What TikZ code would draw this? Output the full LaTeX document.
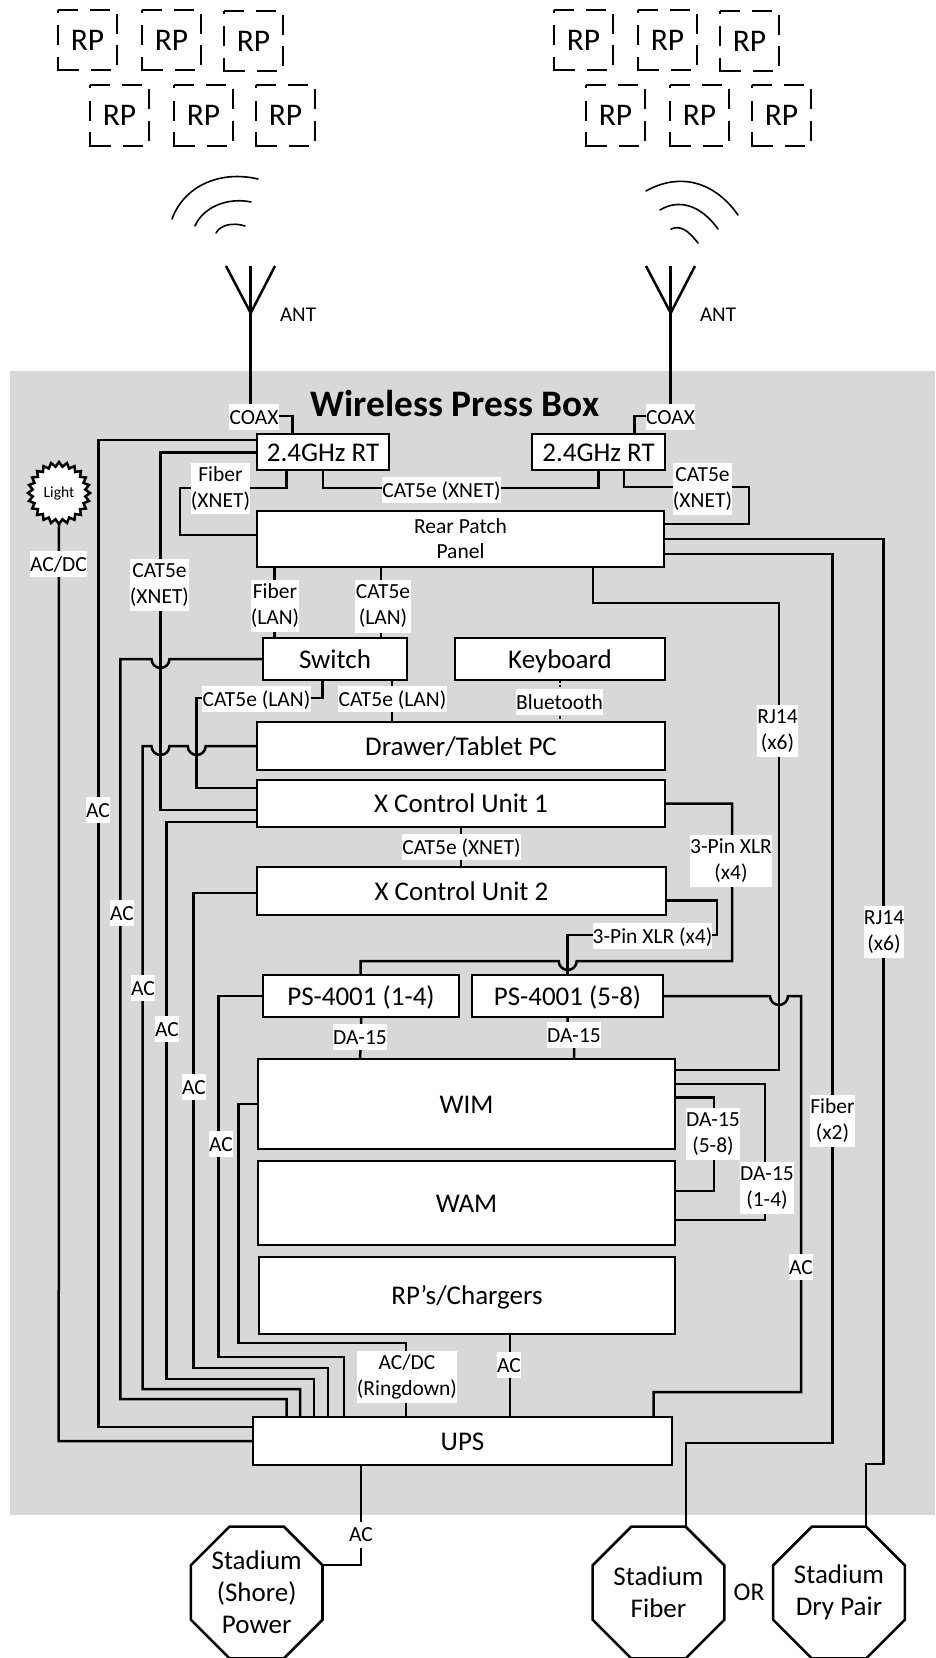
\documentclass[tikz,border=0pt]{standalone}
\usepackage{fontspec}
\setmainfont{Carlito}
\usetikzlibrary{shapes.geometric}
\tikzset{
  unit/.style 2 args={draw=black,fill=white,line width=2.8pt,rectangle,inner sep=0pt,outer sep=0pt,
    minimum width=#1pt,minimum height=#2pt,align=center,font=\fontsize{27}{32}\selectfont},
  oneline/.style={text height=18pt,text depth=0pt},
  lab/.style 2 args={fill=white,rectangle,inner sep=0pt,outer sep=0pt,
    minimum width=#1pt,minimum height=#2pt,align=center,font=\fontsize{21.5}{26}\selectfont},
  labone/.style={text height=14pt,text depth=0pt},
  wire/.style={draw=black,line width=2.5pt,line join=miter},
  arcw/.style={draw=black,line width=1.6pt,line cap=round},
  oct/.style={draw=black,fill=white,line width=2.6pt,regular polygon,regular polygon sides=8,
    inner sep=0pt,outer sep=0pt,minimum size=142.5pt,align=center,font=\fontsize{27}{32}\selectfont},
  rpbox/.style={rectangle,inner sep=0pt,outer sep=0pt,minimum width=59pt,minimum height=60.5pt,
    font=\fontsize{31.5}{34}\selectfont},
  rpdash/.style={draw=black,line width=2.3pt,
    dash pattern=on 20pt off 11.5pt on 20pt off 11.5pt on 20pt off 11.5pt on 20pt off 11.5pt on 20pt off 11.5pt on 34.5pt off 11.5pt on 20pt off 12.5pt},
  plain/.style={inner sep=0pt,outer sep=0pt,align=center},
}
\begin{document}
\begin{tikzpicture}[x=1pt,y=-1pt]
\useasboundingbox (0,0) rectangle (935,1658);
\fill[fill={rgb,255:red,216;green,216;blue,216}] (10,371) rectangle (935,1515);

% RP groups
\node[rpbox] (a1) at (87.5,40) {RP};
\node[rpbox] (a2) at (171.5,40) {RP};
\node[rpbox] (a3) at (253.5,41) {RP};
\node[rpbox] (a4) at (119.5,115.5) {RP};
\node[rpbox] (a5) at (203.5,115.5) {RP};
\node[rpbox] (a6) at (285.5,115.5) {RP};
\node[rpbox] (b1) at (583.5,40) {RP};
\node[rpbox] (b2) at (667.5,40) {RP};
\node[rpbox] (b3) at (749.5,41) {RP};
\node[rpbox] (b4) at (615.5,115.5) {RP};
\node[rpbox] (b5) at (699.5,115.5) {RP};
\node[rpbox] (b6) at (781.5,115.5) {RP};
\foreach \n in {a1,a2,a3,a4,a5,a6,b1,b2,b3,b4,b5,b6}
  \draw[rpdash] (\n.north west) -- (\n.north east) -- (\n.south east) -- (\n.south west) -- cycle;

% signal arcs
\draw[arcw] (172,219) .. controls (184,186) and (220,170) .. (258,179);
\draw[arcw] (195,226) .. controls (203,207) and (228,197) .. (251,202);
\draw[arcw] (216,233) .. controls (220,225) and (233,222) .. (245,226);
\draw[arcw] (646,191) .. controls (676,174) and (712,178) .. (738,215);
\draw[arcw] (660,210) .. controls (678,199) and (700,204) .. (718,229);
\draw[arcw] (671,229) .. controls (680,225) and (688,230) .. (698,243);

% antennas
\coordinate (ant1) at (250.7,313);
\coordinate (ant2) at (670.7,313);
\draw[wire] (226,266) -- (ant1) -- (275,266);
\draw[wire] (ant1 |- 0,266) -- (ant1);
\draw[wire] (646,266) -- (ant2) -- (695,266);
\draw[wire] (ant2 |- 0,266) -- (ant2);
\node[plain,font=\fontsize{21}{24}\selectfont] (anta) at (298,315) {ANT};
\node[plain,font=\fontsize{21}{24}\selectfont] (antb) at (718,315) {ANT};

% title
\node[plain,font=\fontsize{37.4}{42}\selectfont\bfseries] (title) at (455,404) {Wireless Press Box};

% main units
\node[unit={132}{36},oneline] (rt1) at (323,452) {2.4GHz RT};
\node[unit={133}{36},oneline] (rt2) at (598.5,452) {2.4GHz RT};
\node[unit={407}{56},font=\fontsize{21.5}{25}\selectfont] (rear) at (460.5,539) {Rear Patch\\Panel};
\node[unit={144}{42},oneline] (switch) at (335,659) {Switch};
\node[unit={210}{42},oneline] (keyb) at (560,659) {Keyboard};
\node[unit={408}{48},oneline] (drawer) at (461,746) {Drawer/Tablet PC};
\node[unit={408}{47},oneline] (xcu1) at (461,803.5) {X Control Unit 1};
\node[unit={409}{48},oneline] (xcu2) at (461.5,891) {X Control Unit 2};
\node[unit={196}{42},oneline] (ps1) at (361,996) {PS-4001 (1-4)};
\node[unit={191}{42},oneline] (ps2) at (567.5,996) {PS-4001 (5-8)};
\node[unit={417}{90},oneline] (wim) at (466.5,1104) {WIM};
\node[unit={417}{84},oneline] (wam) at (466.5,1203) {WAM};
\node[unit={416}{77},oneline] (rpch) at (467,1295.5) {RP’s/Chargers};
\node[unit={419}{48},oneline] (ups) at (462.5,1441) {UPS};

% light and stadium feeds
\node[draw=black,fill=white,line width=2.5pt,star,star points=24,star point ratio=1.17,inner sep=0pt,outer sep=0pt,
  minimum size=62pt,font=\fontsize{15.5}{18}\selectfont] (light) at (59,493) {Light};
\node[oct] (shore) at (256.7,1592.5) {Stadium\\(Shore)\\Power};
\node[oct] (sfiber) at (658.5,1592.5) {Stadium\\Fiber};
\node[oct] (sdry) at (839,1592.5) {Stadium\\Dry Pair};
\node[plain,font=\fontsize{25.5}{30}\selectfont] (orr) at (749,1592) {OR};
\coordinate (shoreport) at (323,1565);
\coordinate (fiberport) at (686,1527);
\coordinate (dryport) at (866,1527);

% connectors
\draw[wire] (ant1) |- (292.7,416) -- (292.7,434);
\draw[wire] (ant2) |- (634.7,416) -- (634.7,434);
\draw[wire] (rt1.west |- 0,440) -- (98.5,440) -- (98.5,1427) -- (ups.west |- 0,1427);
\draw[wire] (rt1.west |- 0,452.7) -- (160.5,452.7) -- (160.5,810) -- (xcu1.west |- 0,810);
\draw[wire] (rt1.south -| 286.7,0) -- (286.7,488) -- (180,488) -- (180,535) -- (rear.west |- 0,535);
\draw[wire] (rt1.south -| 323,0) -- (323,488) -- (598.7,488) -- (rt2.south -| 598.7,0);
\draw[wire] (rt2.south -| 624,0) -- (624,487) -- (749,487) -- (749,524) -- (rear.east |- 0,524);
\draw[wire] (rear.east |- 0,539) -- (883.7,539) -- (883.7,1464) -- (866,1464) -- (dryport);
\draw[wire] (rear.east |- 0,554) -- (832.7,554) -- (832.7,1443) -- (686,1443) -- (fiberport);
\draw[wire] (rear.south -| 593,0) -- (593,603) -- (779,603) -- (779,1070) -- (wim.east |- 0,1070);
\draw[wire] (rear.south -| 274.7,0) -- (switch.north -| 274.7,0);
\draw[wire] (rear.south -| 381,0) -- (switch.north -| 381,0);
\draw[wire] (switch.west) -- (169.5,659) arc[start angle=0,end angle=180,radius=9] -- (120.3,659) -- (120.3,1399) -- (286.7,1399) -- (ups.north -| 286.7,0);
\draw[wire] (switch.south -| 322.7,0) -- (322.7,698) -- (196.7,698) -- (196.7,788) -- (xcu1.west |- 0,788);
\draw[wire] (switch.south -| 392,0) -- (drawer.north -| 392,0);
\draw[wire,dotted] (keyb.south) -- (drawer.north -| keyb.south);
\draw[wire] (drawer.west) -- (205.7,746) arc[start angle=0,end angle=180,radius=9] -- (169.5,746) arc[start angle=0,end angle=180,radius=9] -- (142.7,746) -- (142.7,1389) -- (300,1389) -- (ups.north -| 300,0);
\draw[wire] (xcu1.west |- 0,822) -- (166.7,822) -- (166.7,1379) -- (314,1379) -- (ups.north -| 314,0);
\draw[wire] (xcu1.east |- 0,803.7) -- (732,803.7) -- (732,961) -- (576.7,961) arc[start angle=0,end angle=180,radius=9] -- (360.7,961) -- (ps1.north -| 360.7,0);
\draw[wire] (xcu1.south) -- (xcu2.north -| xcu1.south);
\draw[wire] (xcu2.west |- 0,893) -- (193.3,893) -- (193.3,1368) -- (328,1368) -- (ups.north -| 328,0);
\draw[wire] (xcu2.east |- 0,900.7) -- (717,900.7) -- (717,935) -- (567.7,935) -- (567.7,975);
\draw[wire] (ps1.west) -- (218.3,996) -- (218.3,1357) -- (344,1357) -- (ups.north -| 344,0);
\draw[wire] (ps2.east) -- (770,996) arc[start angle=180,end angle=0,radius=9] -- (801,996) -- (801,1392) -- (653.7,1392) -- (ups.north -| 653.7,0);
\draw[wire] (ps1.south) -- (361,1037) -- (wim.north -| 360,0);
\draw[wire] (ps2.south) -- (567.7,1035) -- (574,1035) -- (wim.north -| 574,0);
\draw[wire] (wim.west) -- (238.7,1104) -- (238.7,1343) -- (406,1343) -- (ups.north -| 406,0);
\draw[wire] (wim.east |- 0,1097.7) -- (714,1097.7) -- (714,1191) -- (wam.east |- 0,1191);
\draw[wire] (wim.east |- 0,1084) -- (765,1084) -- (765,1220) -- (wam.east |- 0,1220);
\draw[wire] (rpch.south -| 510,0) -- (ups.north -| 510,0);
\draw[wire] (light.south) -- (58.7,1441) -- (ups.west |- 0,1441);
\draw[wire] (ups.south -| 361,0) -- (361,1565) -- (shoreport);

% labels
\node[lab={50}{26},labone] (l1) at (254,417) {COAX};
\node[lab={49}{26},labone] (l2) at (670.5,417) {COAX};
\node[lab={59}{51}] (l3) at (220.5,488.5) {Fiber\\(XNET)};
\node[lab={119}{26},labone] (l4) at (441.5,490) {CAT5e (XNET)};
\node[lab={59}{52}] (l5) at (702.5,489) {CAT5e\\(XNET)};
\node[lab={59}{52}] (l6) at (159.5,585) {CAT5e\\(XNET)};
\node[lab={57}{26},labone] (l7) at (58.5,564) {AC/DC};
\node[lab={48}{52}] (l8) at (275,606) {Fiber\\(LAN)};
\node[lab={56}{53}] (l9) at (383,606) {CAT5e\\(LAN)};
\node[lab={109}{26},labone] (l10) at (256.5,699) {CAT5e (LAN)};
\node[lab={109}{26},labone] (l11) at (392.5,699) {CAT5e (LAN)};
\node[lab={87}{26},labone] (l12) at (559.5,702) {Bluetooth};
\node[lab={41}{52}] (l13) at (777.5,731) {RJ14\\(x6)};
\node[lab={119}{26},labone] (l14) at (461.5,847) {CAT5e (XNET)};
\node[lab={82}{52}] (l15) at (731,861) {3-Pin XLR\\(x4)};
\node[lab={119}{26},labone] (l16) at (652.5,936) {3-Pin XLR (x4)};
\node[lab={40}{52}] (l17) at (884,932) {RJ14\\(x6)};
\node[lab={24}{26},labone] (l18) at (98,810) {AC};
\node[lab={24}{26},labone] (l19) at (122,913) {AC};
\node[lab={24}{26},labone] (l20) at (143,988) {AC};
\node[lab={24}{26},labone] (l21) at (167,1029) {AC};
\node[lab={24}{26},labone] (l22) at (194,1087) {AC};
\node[lab={24}{26},labone] (l23) at (221,1144) {AC};
\node[lab={54}{26},labone] (l24) at (360,1037) {DA-15};
\node[lab={54}{26},labone] (l25) at (574,1035) {DA-15};
\node[lab={54}{52}] (l26) at (713,1134) {DA-15\\(5-8)};
\node[lab={54}{52}] (l27) at (767,1188) {DA-15\\(1-4)};
\node[lab={45}{52}] (l28) at (832.5,1121) {Fiber\\(x2)};
\node[lab={24}{26},labone] (l29) at (801,1267) {AC};
\node[lab={100}{52}] (l30) at (407,1377) {AC/DC\\(Ringdown)};
\node[lab={24}{26},labone] (l31) at (509,1365) {AC};
\node[lab={24}{26},labone] (l32) at (361,1534.5) {AC};
\end{tikzpicture}
\end{document}
